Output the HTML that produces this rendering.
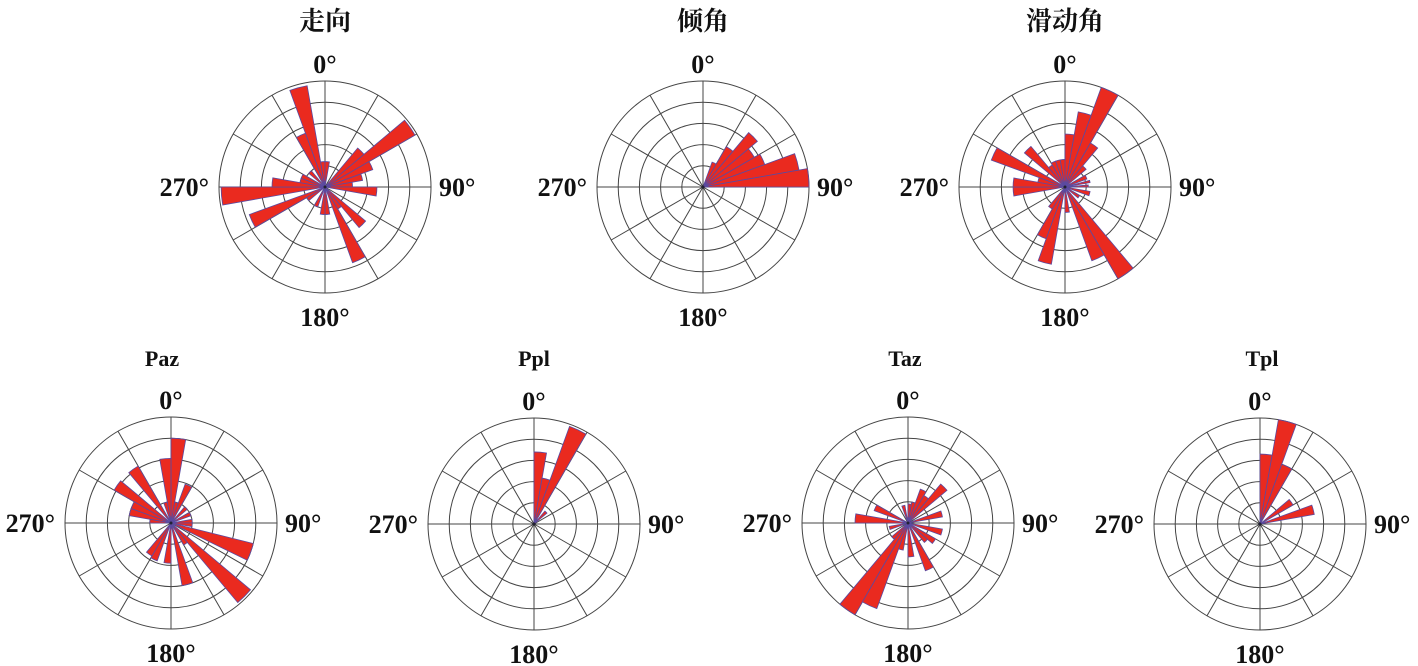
<!DOCTYPE html>
<html><head><meta charset="utf-8"><style>
html,body{margin:0;padding:0;background:#fff;}
svg{display:block;}
text{font-family:"Liberation Serif","Noto Serif CJK SC",serif;font-weight:bold;fill:#111;}
</style></head><body>
<svg id="s" width="1418" height="666" viewBox="0 0 1418 666" xmlns="http://www.w3.org/2000/svg">
<g id="g"></g>
<g font-size="26">
<text x="325" y="30" text-anchor="middle" style="font-family:'Noto Serif CJK SC',serif">走向</text>
<text x="703" y="30" text-anchor="middle" style="font-family:'Noto Serif CJK SC',serif">倾角</text>
<text x="1065" y="30" text-anchor="middle" style="font-family:'Noto Serif CJK SC',serif">滑动角</text>
</g>
<g font-size="22">
<text x="162" y="366" text-anchor="middle">Paz</text>
<text x="534" y="366" text-anchor="middle">Ppl</text>
<text x="905" y="366" text-anchor="middle">Taz</text>
<text x="1262" y="366" text-anchor="middle">Tpl</text>
</g>
<g id="lab" font-size="26"></g>
</svg>
<script>
var NS="http://www.w3.org/2000/svg";
var g=document.getElementById('g'),lab=document.getElementById('lab');
function el(t,a,p){var e=document.createElementNS(NS,t);for(var k in a)e.setAttribute(k,a[k]);(p||g).appendChild(e);return e;}
function pt(cx,cy,r,a){var t=a*Math.PI/180;return [cx+r*Math.sin(t),cy-r*Math.cos(t)];}
function rose(cx,cy,R,bins){
  var u=R/5;
  for(var i=1;i<=5;i++)el('circle',{cx:cx,cy:cy,r:u*i,fill:'none',stroke:'#444','stroke-width':1});
  for(var a=0;a<360;a+=30){var p=pt(cx,cy,R,a);el('line',{x1:cx,y1:cy,x2:p[0],y2:p[1],stroke:'#444','stroke-width':1});}
  bins.forEach(function(b){var r=b[2]*u,p1=pt(cx,cy,r,b[0]),p2=pt(cx,cy,r,b[1]);
    el('path',{d:'M'+cx+','+cy+'L'+p1[0]+','+p1[1]+'A'+r+','+r+' 0 0 1 '+p2[0]+','+p2[1]+'Z',fill:'#ea2a1f',stroke:'#5b4aa0','stroke-width':0.8});});
  el('circle',{cx:cx,cy:cy,r:1.5,fill:'#223'});
  var t;
  t=el('text',{x:cx,y:cy-R-8,'text-anchor':'middle'},lab);t.textContent='0°';
  t=el('text',{x:cx,y:cy+R+33,'text-anchor':'middle'},lab);t.textContent='180°';
  t=el('text',{x:cx-R-10,y:cy+9,'text-anchor':'end'},lab);t.textContent='270°';
  t=el('text',{x:cx+R+8,y:cy+9,'text-anchor':'start'},lab);t.textContent='90°';
}
function B(list){return list.map(function(x){return [x[0],x[0]+(x[2]||10),x[1]];});}
rose(325,187,106,B([[340,4.85],[350,1.2],[330,2.7],[0,1.2],[50,4.9],[40,2.4],[60,2.4],[70,1.8],[80,1.3],[90,2.45],[130,2.5],[150,3.8],[140,1.2],[170,1.3],[180,1.3],[200,1.0],[240,3.8],[260,4.9],[270,2.5],[280,1.2],[290,1.2],[310,1.0],[230,1.0]]));
rose(703,187,106,B([[20,1.25],[30,2.2],[40,3.35],[50,2.8],[60,3.1],[70,4.6],[80,5.0]]));
rose(1065,187,106,B([[20,5.0],[10,3.6],[0,2.5],[30,2.4],[40,1.3],[60,1.1],[75,1.2,5],[85,1.1,5],[100,1.2],[140,5.0],[150,3.7],[170,1.2],[190,3.7],[200,2.6],[210,1.2],[260,2.45],[270,2.45],[280,1.3],[290,3.7],[310,2.5],[320,1.2],[330,1.3],[340,1.3],[350,1.3],[120,0.8]]));
rose(171,523,106,B([[0,4.0],[350,3.05],[320,3.1],[300,3.1],[280,2.0],[290,2.0],[20,1.95],[40,1.0],[60,1.0],[80,1.0],[104,4.0,12],[130,4.9],[160,3.0],[180,1.9],[200,1.9],[210,1.8],[140,1.2],[10,1.0],[340,1.0],[270,1.0],[90,1.0]]));
rose(534,524,106,B([[0,3.4],[10,2.2],[20,4.9],[40,0.8,10]]));
rose(908,523,106,B([[40,2.4],[20,1.7],[30,1.5],[10,1.0],[0,0.9],[340,0.85],[290,1.7],[270,2.5],[70,1.65],[100,1.65],[120,1.5],[150,2.4],[170,1.6],[210,5.0],[200,4.3],[190,1.3],[220,1.0],[250,0.9],[130,1.2]]));
rose(1260,524,106,B([[0,3.3],[10,5.0],[20,3.0],[50,1.8],[70,2.6]]));
</script>
</body></html>
